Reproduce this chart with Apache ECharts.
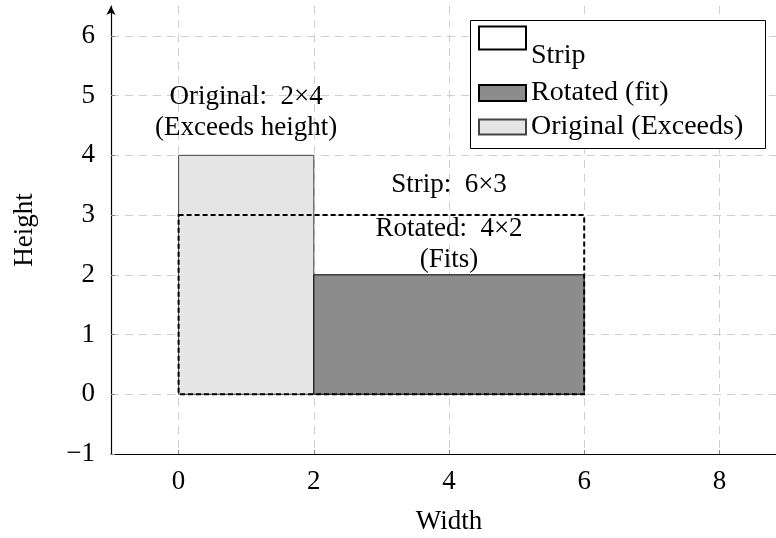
<!DOCTYPE html>
<html>
<head>
<meta charset="utf-8">
<script src="https://cdn.jsdelivr.net/npm/echarts@6/dist/echarts.min.js"></script>
<style>html,body{margin:0;padding:0;background:#fff}#chart{width:776px;height:538px}</style>
</head>
<body>
<div id="chart"></div>
<script>
// ---- data ----
const xTicks = [0, 2, 4, 6, 8];
const yTicks = [-1, 0, 1, 2, 3, 4, 5, 6];
const stripRect = [[0, 0, 6, 3]];
const rotatedRect = [[2, 0, 6, 2]];
const originalRect = [[0, 0, 2, 4]];
const annotationPos = [[1, 4.72], [4, 3.5], [4, 2.51]];
const annotationText = ['Original:  2×4\n(Exceeds height)', 'Strip:  6×3', 'Rotated:  4×2\n(Fits)'];
const seriesNames = ['Strip', 'Rotated (fit)', 'Original (Exceeds)'];

const FONT = '"Liberation Serif", "Times New Roman", "DejaVu Serif", serif';

function rectRenderer(style) {
  return function (params, api) {
    const p0 = api.coord([api.value(0), api.value(1)]);
    const p1 = api.coord([api.value(2), api.value(3)]);
    return {
      type: 'rect',
      shape: { x: p0[0], y: p1[1], width: p1[0] - p0[0], height: p0[1] - p1[1] },
      style: style
    };
  };
}

const chart = echarts.init(document.getElementById('chart'));
chart.setOption({
  animation: false,
  backgroundColor: '#fff',
  textStyle: { fontFamily: FONT },
  grid: { left: 111, right: -11, top: 6, bottom: 84, containLabel: false, outerBoundsMode: 'none' },
  xAxis: {
    type: 'value', min: -1, max: 9,
    name: 'Width', nameLocation: 'middle', nameGap: 54,
    nameTextStyle: { fontFamily: FONT, fontSize: 27, color: '#000' },
    axisLine: { onZero: false, lineStyle: { color: '#000', width: 1.2 } },
    axisTick: { show: true, length: 4, inside: true, customValues: xTicks, lineStyle: { color: '#888' } },
    axisLabel: { customValues: xTicks, fontFamily: FONT, fontSize: 27, color: '#000', margin: 14 },
    splitLine: { show: true, lineStyle: { color: '#cfcfcf', type: [8, 6], width: 1 } }
  },
  yAxis: {
    type: 'value', min: -1, max: 6.5,
    name: 'Height', nameLocation: 'middle', nameGap: 73, nameRotate: 90,
    nameTextStyle: { fontFamily: FONT, fontSize: 27, color: '#000' },
    axisLine: { onZero: false, symbol: ['none', 'arrow'], symbolSize: [7, 9], lineStyle: { color: '#000', width: 1.2 } },
    axisTick: { show: true, length: 4, inside: true, customValues: yTicks, lineStyle: { color: '#888' } },
    axisLabel: {
      customValues: yTicks, fontFamily: FONT, fontSize: 27, color: '#000', margin: 16,
      formatter: v => String(v).replace('-', '\u2212')
    },
    splitLine: { show: true, lineStyle: { color: '#cfcfcf', type: [8, 6], width: 1 } }
  },
  graphic: [{
    type: 'rect', left: 470, top: 20, z: 5,
    shape: { width: 295, height: 128 },
    style: { fill: '#fff', stroke: '#000', lineWidth: 1 }
  }],
  legend: [
    {
      data: [{ name: seriesNames[0], itemStyle: { color: '#fff', borderColor: '#000', borderWidth: 2, borderType: 'solid' } }],
      left: 478, top: 2, padding: 0, z: 10, icon: 'rect', selectedMode: false,
      itemWidth: 47, itemHeight: 23,
      formatter: '\n{name}',
      textStyle: { fontFamily: FONT, fontSize: 28, color: '#000', lineHeight: 36 }
    },
    {
      data: [seriesNames[1]],
      left: 478, top: 79, padding: 0, z: 10, icon: 'rect', selectedMode: false,
      itemWidth: 47, itemHeight: 16,
      textStyle: { fontFamily: FONT, fontSize: 28, color: '#000' }
    },
    {
      data: [seriesNames[2]],
      left: 478, top: 113, padding: 0, z: 10, icon: 'rect', selectedMode: false,
      itemWidth: 47, itemHeight: 15,
      textStyle: { fontFamily: FONT, fontSize: 28, color: '#000' }
    }
  ],
  series: [
    {
      name: seriesNames[2], type: 'custom', z: 2,
      itemStyle: { color: '#e5e5e5', borderColor: '#444', borderWidth: 1 },
      encode: { x: [0, 2], y: [1, 3] },
      renderItem: rectRenderer({ fill: '#e5e5e5', stroke: '#444', lineWidth: 1 }),
      data: originalRect
    },
    {
      name: seriesNames[1], type: 'custom', z: 3,
      itemStyle: { color: '#8c8c8c', borderColor: '#000', borderWidth: 1 },
      encode: { x: [0, 2], y: [1, 3] },
      renderItem: rectRenderer({ fill: '#8c8c8c', stroke: '#000', lineWidth: 1 }),
      data: rotatedRect
    },
    {
      name: seriesNames[0], type: 'custom', z: 4,
      itemStyle: { color: 'transparent', borderColor: '#000', borderWidth: 2 },
      encode: { x: [0, 2], y: [1, 3] },
      renderItem: rectRenderer({ fill: null, stroke: '#000', lineWidth: 2, lineDash: [5, 3] }),
      data: stripRect
    },
    {
      name: 'annotations', type: 'custom', z: 6,
      encode: { x: 0, y: 1 },
      renderItem: function (params, api) {
        const p = api.coord([api.value(0), api.value(1)]);
        return {
          type: 'text',
          style: {
            x: p[0], y: p[1], text: annotationText[params.dataIndex],
            align: 'center', verticalAlign: 'middle',
            font: '27px ' + FONT, lineHeight: 31, fill: '#000'
          }
        };
      },
      data: annotationPos
    }
  ]
});
</script>
</body>
</html>
